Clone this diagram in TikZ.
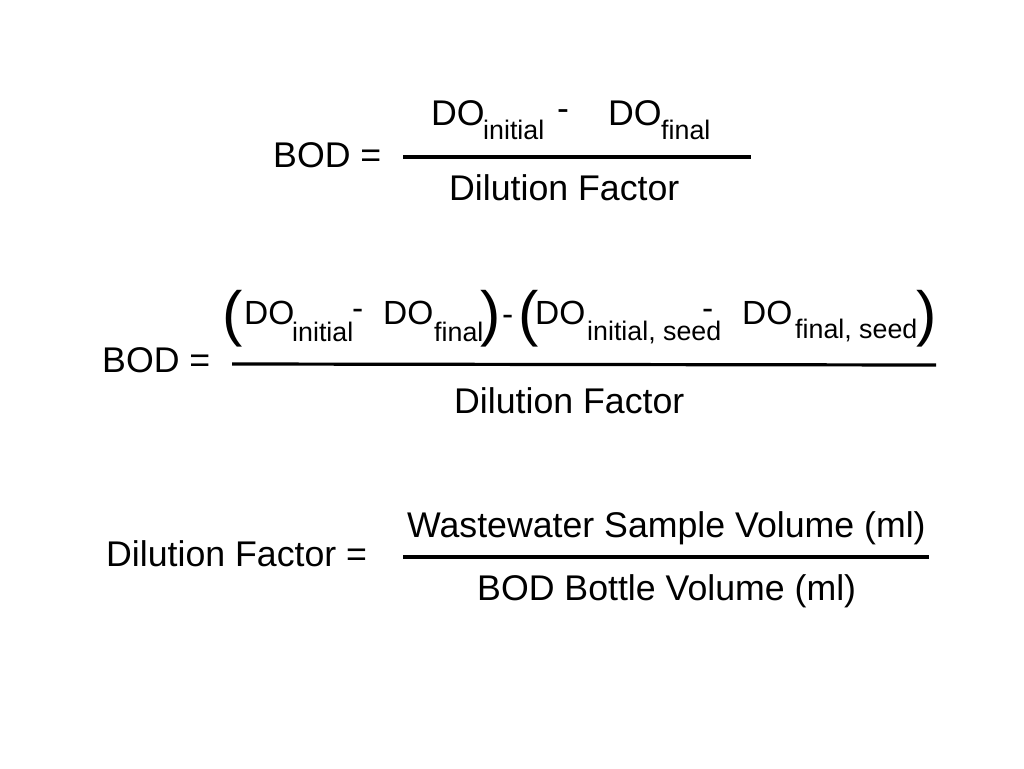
\documentclass[tikz,border=0pt]{standalone}
\usepackage{fontspec}
\setmainfont{Liberation Sans}
\tikzset{
  t/.style={inner sep=0pt,anchor=base west,font=\fontsize{35.7}{38}\selectfont},
  m/.style={inner sep=0pt,anchor=base west,font=\fontsize{33.5}{36}\selectfont},
  s/.style={inner sep=0pt,anchor=base west,font=\fontsize{26.8}{30}\selectfont},
  p/.style={inner sep=0pt,anchor=base west,font=\fontsize{61}{64}\selectfont},
  bar/.style={line width=3.2pt,black}
}
\begin{document}
\begin{tikzpicture}[x=1pt,y=-1pt]
\useasboundingbox (0,0) rectangle (1024,768);
\fill[white] (0,0) rectangle (1024,768);
% eq 1
\node[t] (a1) at (273,167) {BOD =};
\node[t] (a2) at (431,125) {DO};
\node[s] (a3) at (483,139) {initial};
\node[t] (a4) at (557,120) {-};
\node[t] (a5) at (608,125) {DO};
\node[s] (a6) at (661,139) {final};
\node[t] (a7) at (449,200) {Dilution Factor};
\coordinate (a8) at (403,157); \coordinate (a9) at (751,157);
\draw[bar] (a8) -- (a9);
% eq 2
\node[t] (b1) at (102,372) {BOD =};
\node[p] (b2) at (222,334) {(};
\node[m] (b3) at (244,324) {DO};
\node[s] (b4) at (292,341) {initial};
\node[m] (b5) at (352,319) {-};
\node[m] (b6) at (383,324) {DO};
\node[s] (b7) at (434,341) {final};
\node[p] (b8) at (480,334) {)};
\node[m] (b9) at (502,325) {-};
\node[p] (b10) at (518,334) {(};
\node[m] (b11) at (535,324) {DO};
\node[s] (b12) at (587,340) {initial, seed};
\node[m] (b13) at (702,319) {-};
\node[m] (b14) at (742,324) {DO};
\node[s] (b15) at (795,338) {final, seed};
\node[p] (b16) at (916,334) {)};
\node[t] (b17) at (454,413) {Dilution Factor};
\coordinate (b18) at (232,364); \coordinate (b19) at (936,365);
\draw[bar] (b18) -- (b19);
% eq 3
\node[t] (c1) at (106,566) {Dilution Factor =};
\node[t] (c2) at (407,537) {Wastewater Sample Volume (ml)};
\node[t] (c3) at (477,600) {BOD Bottle Volume (ml)};
\coordinate (c4) at (403,557); \coordinate (c5) at (929,557);
\draw[bar] (c4) -- (c5);
\end{tikzpicture}
\end{document}
